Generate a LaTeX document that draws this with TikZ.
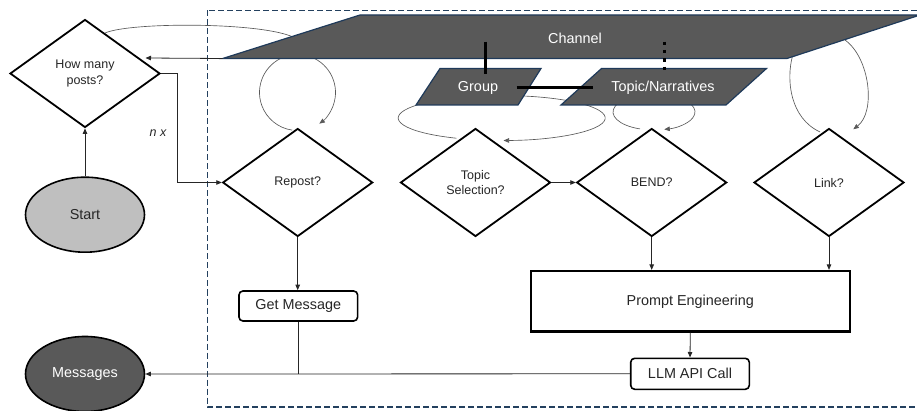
\documentclass[tikz,border=0pt]{standalone}
\usepackage{fontspec}
\setmainfont{Liberation Sans}
\usetikzlibrary{shapes.geometric,arrows.meta,calc}

\definecolor{shapegray}{HTML}{595959}
\definecolor{startgray}{HTML}{BFBFBF}
\definecolor{edgeblue}{HTML}{1F3A5A}
\definecolor{frameblue}{HTML}{23405E}
\definecolor{inkgray}{HTML}{262626}

\newcommand\lblfont{\fontsize{14.4}{17}\selectfont}
\newcommand\dfont{\fontsize{12.5}{15.6}\selectfont}

\tikzset{
  dia/.style={diamond, draw=black, line width=1.8pt, fill=white,
    minimum width=150pt, minimum height=108pt, inner sep=0pt,
    align=center, font=\dfont, text=inkgray},
  rbox/.style={draw=black, rounded corners=4pt, line width=1.6pt, fill=white,
    inner sep=0pt, font=\lblfont, text=inkgray},
  para/.style={fill=shapegray, draw=edgeblue, line width=1.2pt, line join=miter},
  ptext/.style={text=white, font=\lblfont, inner sep=0pt},
  oval/.style={ellipse, draw=black, line width=1.6pt, minimum width=119pt,
    minimum height=75pt, inner sep=0pt, font=\lblfont},
  lp/.style={draw=black!65, line width=0.65pt},
  tip/.style={-{Triangle[length=5.5pt,width=4.5pt]}},
  arr/.style={draw=black!85, line width=0.8pt, tip},
  link/.style={draw=black, line width=3pt},
  dottedlink/.style={draw=black, line width=3.3pt, dash pattern=on 3.3pt off 5pt},
  frame/.style={draw=frameblue, line width=1.3pt, dash pattern=on 6pt off 3pt}
}

\begin{document}
\begin{tikzpicture}[x=1pt, y=-1pt]
\path[use as bounding box] (0,0) rectangle (917,411);
\clip (0,0) rectangle (917,411);

% dashed frame around the processing steps
\draw[frame] (207.5,10.5) rectangle (935,407);

% curved loops (drawn first so the shapes cover their hidden parts)
\draw[lp] (105,33) .. controls (130,22) and (260,22) .. (293,37);

\coordinate (rc) at (297.5,92.5);
\draw[lp] ($(rc)+(-110:38)$) arc[start angle=-110, end angle=-262, radius=38];
\draw[lp,tip] ($(rc)+(-70:38)$) arc[start angle=-70, end angle=55, radius=38];

\coordinate (gc) at (501.7,118);
\draw[lp,tip] ($(gc)+(-244:103.5 and 22.5)$)
  arc[start angle=-244, end angle=89, x radius=103.5, y radius=22.5];

\coordinate (tc) at (654,112);
\draw[lp,tip] ($(tc)+(-250:41 and 18)$)
  arc[start angle=-250, end angle=75.5, x radius=41, y radius=18];

\draw[lp] (792.5,56) .. controls (786,80) and (790,118) .. (820,132);
\draw[lp,tip] (845,40) .. controls (870,58) and (876,112) .. (853.3,129.3);

% parallelograms
\draw[para] (222.7,58.5) -- (360,15) -- (920,15) -- (787,58.5) -- cycle;
\node[ptext] (channel) at (575,38) {Channel};

\draw[para] (440,68.5) -- (541,68.5) -- (518,105) -- (416,105) -- cycle;
\node[ptext] (group) at (478,88) {Group};

\draw[para] (601.5,68.5) -- (766.5,68.5) -- (726,105) -- (561,105) -- cycle;
\node[ptext] (topic) at (663,88) {Topic/Narratives};

% relations between channel, group and topic
\coordinate (cg1) at (485,41.7);
\coordinate (cg2) at (485,74);
\draw[link] (cg1) -- (cg2);
\coordinate (gt1) at (516.7,87.3);
\coordinate (gt2) at (593.3,87.3);
\draw[link] (gt1) -- (gt2);
\coordinate (ct1) at (664.3,41.7);
\coordinate (ct2) at (664.3,72.7);
\draw[dottedlink] (ct1) -- (ct2);

% start / end ovals
\node[oval, fill=startgray, text=inkgray] (start) at (85,214.7) {Start};
\node[oval, fill=shapegray, text=white] (msgs) at (85,374) {Messages};

% decisions
\node[dia] (how) at (85,73.5) {How many\\posts?};
\node[dia] (repost) at (297.7,182.5) {Repost?};
\node[dia] (topsel) at (475.5,182.5) {Topic\\Selection?};
\node[dia] (bend) at (651.7,182.5) {BEND?};
\node[dia] (lnk) at (829,182.5) {Link?};

% process boxes
\node[rbox, minimum width=118.7pt, minimum height=30pt] (getmsg) at (298.3,306) {Get Message};
\node[draw=black, line width=2.3pt, fill=white, minimum width=319pt,
  minimum height=60.5pt, inner sep=0pt, font=\lblfont, text=inkgray] (pe) at (690.3,301.3) {Prompt Engineering};
\node[rbox, minimum width=118.6pt, minimum height=31pt] (llm) at (690,373.8) {LLM API Call};

% connectors
\draw[arr] (start) -- (how);
\coordinate (chBL) at (222.7,58.5);
\coordinate (howin) at (145.5,58);
\draw[arr] (chBL) -- (howin);

\draw[arr] (how.east) -- ++(16.7,0) |- (repost.west);
\node[font=\dfont\itshape, text=inkgray] (nx) at (158,133) {n x};

\draw[arr] (topsel.east) -- (bend.west);
\draw[arr] (repost.south) -- (repost.south |- getmsg.north);
\draw[arr] (bend.south) -- (bend.south |- pe.north);
\draw[arr] (lnk.south) -- (lnk.south |- pe.north);
\draw[arr] (pe.south) -- (llm.north);

\draw[arr] (llm.west) -- (msgs.east);
\draw[draw=black!85, line width=0.8pt] (getmsg.south) -- (getmsg.south |- llm.west);
\end{tikzpicture}
\end{document}
